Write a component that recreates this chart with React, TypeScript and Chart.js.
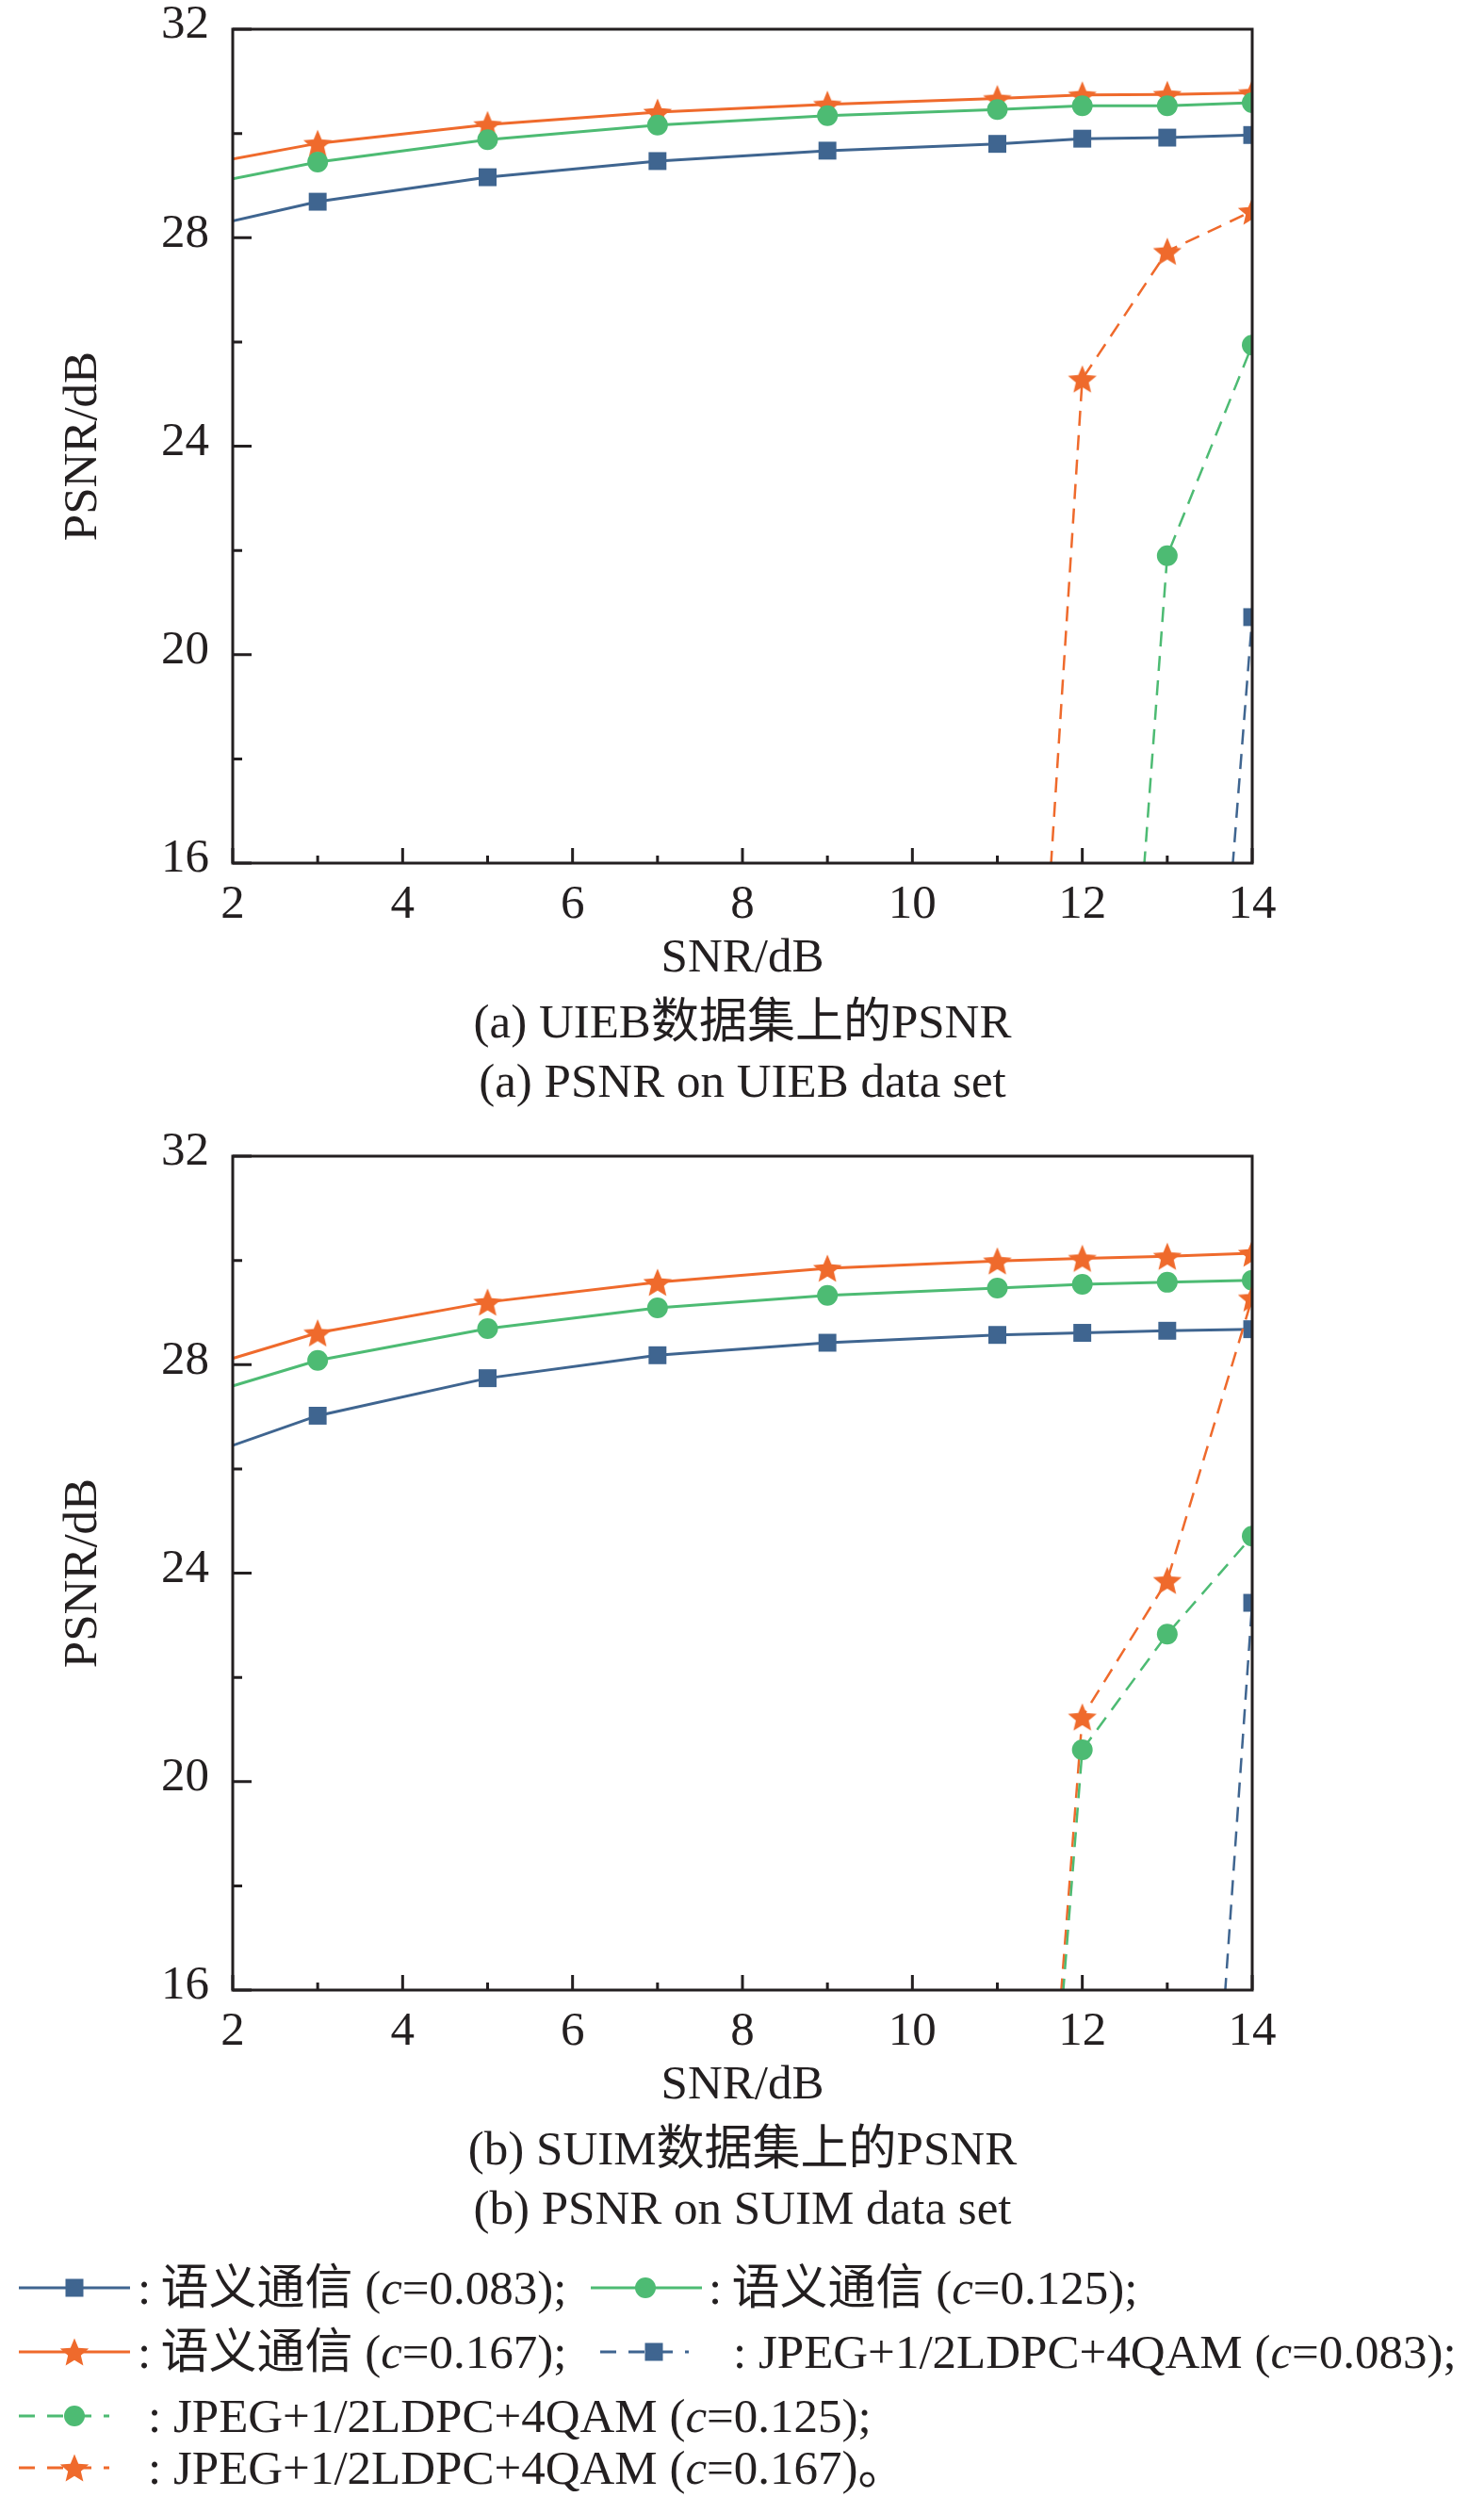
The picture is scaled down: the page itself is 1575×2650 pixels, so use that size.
import { useEffect, useRef } from "react";
import { Chart, registerables } from "chart.js";

Chart.register(...registerables);

// SNR points (x = 1 lies left of the axis and is clipped, as in the figure)
const snr = [1, 3, 5, 7, 9, 11, 12, 13, 14];

// (a) UIEB
const uiebSem083 = [27.95, 28.69, 29.16, 29.47, 29.67, 29.8, 29.9, 29.92, 29.97];
const uiebSem125 = [28.81, 29.45, 29.88, 30.16, 30.34, 30.46, 30.53, 30.53, 30.59];
const uiebSem167 = [29.21, 29.81, 30.17, 30.41, 30.56, 30.67, 30.74, 30.75, 30.78];
const uiebJpeg083 = [null, null, null, null, null, null, null, 0, 20.72];
const uiebJpeg125 = [null, null, null, null, null, null, 0, 21.9, 25.94];
const uiebJpeg167 = [null, null, null, null, null, 0, 25.29, 27.74, 28.51];

// (b) SUIM
const suimSem083 = [25.88, 27.02, 27.74, 28.18, 28.42, 28.57, 28.61, 28.65, 28.68];
const suimSem125 = [27.1, 28.08, 28.69, 29.09, 29.33, 29.47, 29.54, 29.58, 29.62];
const suimSem167 = [27.63, 28.61, 29.2, 29.58, 29.85, 29.99, 30.04, 30.08, 30.14];
const suimJpeg083 = [null, null, null, null, null, null, null, 0, 23.43];
const suimJpeg125 = [null, null, null, null, null, 0, 20.61, 22.83, 24.71];
const suimJpeg167 = [null, null, null, null, null, 0, 21.24, 23.86, 29.28];

const xTicks = [2, 4, 6, 8, 10, 12, 14];
const xMinor = [3, 5, 7, 9, 11, 13];
const yTicks = [16, 20, 24, 28, 32];
const yMinor = [18, 22, 26, 30];

const BLUE = "#3f6590";
const GREEN = "#4dbb73";
const ORANGE = "#ef6a2c";
const INK = "#231f20";
const FONT = '"Liberation Serif", "Noto Sans CJK SC", serif';

const W = 1575;
const H = 1060;

function makeStar(color: string, R: number) {
  const c = document.createElement("canvas");
  c.width = Math.ceil(R * 2 + 2);
  c.height = Math.ceil(R * 2 + 2);
  const ctx = c.getContext("2d")!;
  const cx = c.width / 2;
  const cy = c.height / 2 + R * 0.1;
  ctx.fillStyle = color;
  ctx.beginPath();
  for (let i = 0; i < 10; i++) {
    const r = i % 2 === 0 ? R : R * 0.45;
    const a = -Math.PI / 2 + (i * Math.PI) / 5;
    const px = cx + r * Math.cos(a);
    const py = cy + r * Math.sin(a);
    if (i === 0) ctx.moveTo(px, py);
    else ctx.lineTo(px, py);
  }
  ctx.closePath();
  ctx.fill();
  return c;
}

// box round the plot plus the inward major/minor ticks
const framePlugin = {
  id: "frame",
  afterDatasetsDraw(chart: any) {
    const { ctx, chartArea: a } = chart;
    const x = chart.scales.x;
    const y = chart.scales.y;
    ctx.save();
    ctx.strokeStyle = INK;
    ctx.lineWidth = 3;
    ctx.beginPath();
    xTicks.forEach((v) => {
      const px = x.getPixelForValue(v);
      ctx.moveTo(px, a.bottom);
      ctx.lineTo(px, a.bottom - 16);
    });
    xMinor.forEach((v) => {
      const px = x.getPixelForValue(v);
      ctx.moveTo(px, a.bottom);
      ctx.lineTo(px, a.bottom - 8);
    });
    yTicks.forEach((v) => {
      const py = y.getPixelForValue(v);
      ctx.moveTo(a.left, py);
      ctx.lineTo(a.left + 20, py);
    });
    yMinor.forEach((v) => {
      const py = y.getPixelForValue(v);
      ctx.moveTo(a.left, py);
      ctx.lineTo(a.left + 10, py);
    });
    ctx.stroke();
    ctx.strokeRect(a.left, a.top, a.right - a.left, a.bottom - a.top);
    ctx.restore();
  },
};

type Series = { data: (number | null)[]; color: string; marker: string; dashed: boolean };

function PsnrChart({ series, top }: { series: Series[]; top: number }) {
  const chartRef = useRef<HTMLCanvasElement | null>(null);
  const chartInstanceRef = useRef<Chart | null>(null);

  useEffect(() => {
    if (!chartRef.current) return;
    const ctx = chartRef.current.getContext("2d");
    if (!ctx) return;

    if (chartInstanceRef.current) {
      chartInstanceRef.current.destroy();
    }

    const datasets = series.map((s) => {
      const style: any = s.marker === "star" ? makeStar(s.color, 16) : s.marker;
      return {
        data: snr.map((x, i) => ({ x, y: s.data[i] })),
        borderColor: s.color,
        backgroundColor: s.color,
        borderWidth: s.dashed ? 2.5 : 3,
        borderDash: s.dashed ? [16, 10] : [],
        pointStyle: style,
        pointRadius: s.marker === "rect" ? 13.4 : s.marker === "circle" ? 11 : 16,
        pointBorderWidth: 0,
        pointBackgroundColor: s.color,
        tension: 0,
      };
    });

    const noPad = (s: any) => {
      s.paddingTop = 0;
      s.paddingBottom = 0;
      s.paddingLeft = 0;
      s.paddingRight = 0;
    };

    chartInstanceRef.current = new Chart(ctx, {
      type: "line",
      data: { datasets: datasets as any },
      plugins: [framePlugin],
      options: {
        responsive: false,
        animation: false,
        layout: { padding: { top: 31, right: 246, left: 0, bottom: 0 } },
        scales: {
          x: {
            type: "linear",
            min: 2,
            max: 14,
            afterFit: (s: any) => {
              s.height = H - 916;
              noPad(s);
            },
            afterBuildTicks: (s: any) => {
              s.ticks = xTicks.map((v) => ({ value: v }));
            },
            grid: { display: false, drawTicks: false },
            border: { display: false },
            ticks: {
              padding: 14,
              color: INK,
              maxRotation: 0,
              font: { family: FONT, size: 51 },
            },
            title: {
              display: true,
              text: "SNR/dB",
              color: INK,
              padding: { top: 0, bottom: 12 },
              font: { family: FONT, size: 51 },
            },
          },
          y: {
            type: "linear",
            min: 16,
            max: 32,
            afterFit: (s: any) => {
              s.width = 247;
              noPad(s);
            },
            afterBuildTicks: (s: any) => {
              s.ticks = yTicks.map((v) => ({ value: v }));
            },
            grid: { display: false, drawTicks: false },
            border: { display: false },
            ticks: {
              padding: 25,
              labelOffset: -4,
              color: INK,
              font: { family: FONT, size: 51 },
            },
            title: {
              display: true,
              text: "PSNR/dB",
              color: INK,
              padding: { top: 58, bottom: 0 },
              font: { family: FONT, size: 51 },
            },
          },
        },
        plugins: {
          legend: { display: false },
          tooltip: { enabled: false },
        },
      },
    });

    return () => {
      chartInstanceRef.current?.destroy();
      chartInstanceRef.current = null;
    };
  }, [series]);

  return (
    <canvas
      ref={chartRef}
      width={W}
      height={H}
      style={{ position: "absolute", left: 0, top, width: W, height: H }}
    ></canvas>
  );
}

function starPoints(cx: number, cy: number, R: number) {
  const pts: string[] = [];
  for (let i = 0; i < 10; i++) {
    const r = i % 2 === 0 ? R : R * 0.45;
    const a = -Math.PI / 2 + (i * Math.PI) / 5;
    pts.push(`${cx + r * Math.cos(a)},${cy + r * Math.sin(a)}`);
  }
  return pts.join(" ");
}

function Key({
  left,
  width,
  markerAt,
  color,
  marker,
  dashed,
}: {
  left: number;
  width: number;
  markerAt: number;
  color: string;
  marker: string;
  dashed: boolean;
}) {
  const h = 40;
  const cy = h / 2;
  return (
    <svg
      width={width}
      height={h}
      style={{ position: "absolute", left, top: -h / 2 + 30 }}
    >
      <line
        x1={0}
        x2={width}
        y1={cy}
        y2={cy}
        stroke={color}
        strokeWidth={3}
        strokeDasharray={dashed ? "17 13" : undefined}
      />
      {marker === "rect" && (
        <rect x={markerAt - 9.5} y={cy - 9.5} width={19} height={19} fill={color} />
      )}
      {marker === "circle" && <circle cx={markerAt} cy={cy} r={11} fill={color} />}
      {marker === "star" && <polygon points={starPoints(markerAt, cy + 1.5, 16)} fill={color} />}
    </svg>
  );
}

const textStyle = {
  position: "absolute" as const,
  fontFamily: FONT,
  fontSize: 51,
  lineHeight: "60px",
  color: INK,
  whiteSpace: "nowrap" as const,
};

function Caption({ center, children }: { center: number; children: any }) {
  return (
    <div style={{ ...textStyle, left: 788, top: center - 30, transform: "translateX(-50%)" }}>
      {children}
    </div>
  );
}

function Row({ center, children }: { center: number; children: any }) {
  return <div style={{ position: "absolute", left: 0, top: center - 30, height: 60, width: W }}>{children}</div>;
}

function Label({ left, children }: { left: number; children: any }) {
  return <div style={{ ...textStyle, left, top: 0 }}>{children}</div>;
}

const uiebSeries: Series[] = [
  { data: uiebJpeg083, color: BLUE, marker: "rect", dashed: true },
  { data: uiebJpeg125, color: GREEN, marker: "circle", dashed: true },
  { data: uiebJpeg167, color: ORANGE, marker: "star", dashed: true },
  { data: uiebSem083, color: BLUE, marker: "rect", dashed: false },
  { data: uiebSem125, color: GREEN, marker: "circle", dashed: false },
  { data: uiebSem167, color: ORANGE, marker: "star", dashed: false },
];

const suimSeries: Series[] = [
  { data: suimJpeg083, color: BLUE, marker: "rect", dashed: true },
  { data: suimJpeg125, color: GREEN, marker: "circle", dashed: true },
  { data: suimJpeg167, color: ORANGE, marker: "star", dashed: true },
  { data: suimSem083, color: BLUE, marker: "rect", dashed: false },
  { data: suimSem125, color: GREEN, marker: "circle", dashed: false },
  { data: suimSem167, color: ORANGE, marker: "star", dashed: false },
];

export default function App() {
  return (
    <div
      style={{
        position: "absolute",
        left: 0,
        top: 0,
        width: W,
        height: 2650,
        background: "#ffffff",
        overflow: "hidden",
      }}
    >
      <PsnrChart series={uiebSeries} top={0} />
      <Caption center={1084}>(a) UIEB数据集上的PSNR</Caption>
      <Caption center={1147}>(a) PSNR on UIEB data set</Caption>

      <PsnrChart series={suimSeries} top={1196} />
      <Caption center={2280}>(b) SUIM数据集上的PSNR</Caption>
      <Caption center={2343}>(b) PSNR on SUIM data set</Caption>

      <Row center={2428}>
        <Key left={20} width={118} markerAt={59} color={BLUE} marker="rect" dashed={false} />
        <Label left={146}>
          :&thinsp;语义通信 (<i>c</i>=0.083);
        </Label>
        <Key left={627} width={118} markerAt={58} color={GREEN} marker="circle" dashed={false} />
        <Label left={752}>
          :&thinsp;语义通信 (<i>c</i>=0.125);
        </Label>
      </Row>
      <Row center={2496}>
        <Key left={20} width={118} markerAt={59} color={ORANGE} marker="star" dashed={false} />
        <Label left={146}>
          :&thinsp;语义通信 (<i>c</i>=0.167);
        </Label>
        <Key left={637} width={94} markerAt={57} color={BLUE} marker="rect" dashed={true} />
        <Label left={778}>
          : JPEG+1/2LDPC+4QAM (<i>c</i>=0.083);
        </Label>
      </Row>
      <Row center={2564}>
        <Key left={20} width={96} markerAt={59} color={GREEN} marker="circle" dashed={true} />
        <Label left={157}>
          : JPEG+1/2LDPC+4QAM (<i>c</i>=0.125);
        </Label>
      </Row>
      <Row center={2619}>
        <Key left={20} width={96} markerAt={59} color={ORANGE} marker="star" dashed={true} />
        <Label left={157}>
          : JPEG+1/2LDPC+4QAM (<i>c</i>=0.167)。
        </Label>
      </Row>
    </div>
  );
}
